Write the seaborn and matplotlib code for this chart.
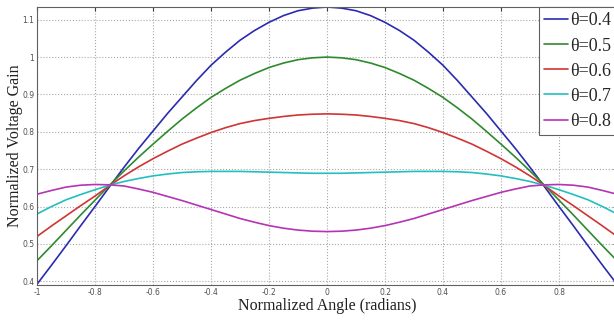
import matplotlib
matplotlib.use("Agg")
import matplotlib.pyplot as plt
import pandas as pd
import seaborn as sns
from matplotlib.lines import Line2D

# Normalized angle (left half, curves are symmetric about 0)
x_half = [-1.0, -0.95, -0.9, -0.85, -0.8, -0.75, -0.7, -0.65, -0.6, -0.55, -0.5,
          -0.45, -0.4, -0.35, -0.3, -0.25, -0.2, -0.15, -0.1, -0.05, 0.0]

gain_04 = [0.392, 0.443, 0.495, 0.548, 0.600, 0.653, 0.705, 0.755, 0.802, 0.849, 0.893,
           0.937, 0.978, 1.013, 1.045, 1.071, 1.093, 1.111, 1.124, 1.131, 1.134]
gain_05 = [0.455, 0.495, 0.536, 0.577, 0.617, 0.657, 0.695, 0.732, 0.767, 0.801, 0.834,
           0.864, 0.892, 0.916, 0.938, 0.956, 0.972, 0.984, 0.993, 0.998, 1.000]
gain_06 = [0.520, 0.548, 0.575, 0.602, 0.628, 0.656, 0.682, 0.706, 0.728, 0.748, 0.767,
           0.783, 0.798, 0.811, 0.822, 0.830, 0.836, 0.841, 0.845, 0.847, 0.848]
gain_07 = [0.580, 0.600, 0.618, 0.632, 0.645, 0.657, 0.667, 0.675, 0.682, 0.687, 0.691,
           0.693, 0.694, 0.694, 0.694, 0.693, 0.692, 0.691, 0.690, 0.689, 0.689]
gain_08 = [0.633, 0.643, 0.652, 0.657, 0.659, 0.658, 0.655, 0.647, 0.638, 0.627, 0.616,
           0.604, 0.592, 0.580, 0.568, 0.558, 0.549, 0.542, 0.537, 0.534, 0.533]

labels = ["θ=0.4", "θ=0.5", "θ=0.6", "θ=0.7", "θ=0.8"]
colors = ["#2b2bb0", "#2e8a2e", "#d03434", "#22bfbf", "#b533b5"]

x_ticks = [-1, -0.8, -0.6, -0.4, -0.2, 0, 0.2, 0.4, 0.6, 0.8, 1]
x_tick_labels = ["-1", "-0.8", "-0.6", "-0.4", "-0.2", "0", "0.2", "0.4", "0.6", "0.8", ""]
y_ticks = [0.4, 0.5, 0.6, 0.7, 0.8, 0.9, 1.0, 1.1]
y_tick_labels = ["0.4", "0.5", "0.6", "0.7", "0.8", "0.9", "1", "1.1"]


def mirror(h):
    return list(h) + list(h[-2::-1])


x_full = list(x_half) + [-v for v in x_half[-2::-1]]
rows = []
for lab, series in zip(labels, [gain_04, gain_05, gain_06, gain_07, gain_08]):
    for xv, yv in zip(x_full, mirror(series)):
        rows.append({"x": xv, "gain": yv, "theta": lab})
df = pd.DataFrame(rows)

sns.set_style("white")
fig = plt.figure(figsize=(6.14, 3.2), dpi=100)
ax = fig.add_axes([37 / 614, 1 - 285 / 320, 580 / 614, 278 / 320])

sns.lineplot(data=df, x="x", y="gain", hue="theta", palette=colors,
             estimator=None, linewidth=1.2, ax=ax, legend=False)

ax.set_xlim(-1, 1)
ax.set_ylim(0.39, 1.134)
ax.set_xticks(x_ticks)
ax.set_xticklabels(x_tick_labels)
ax.set_yticks(y_ticks)
ax.set_yticklabels(y_tick_labels)
ax.tick_params(direction="in", top=True, right=True, length=3, width=0.8,
               labelsize=5.5, labelcolor="#505050", color="#404040", pad=2)
ax.grid(True, linestyle=":", color="#a8a8a8", linewidth=0.8)
for s in ax.spines.values():
    s.set_color("#606060")
    s.set_linewidth(0.8)

ax.set_xlabel("Normalized Angle (radians)", family="Liberation Serif", fontsize=11.5,
              labelpad=1, color="#202020")
ax.set_ylabel("Normalized Voltage Gain", family="Liberation Serif", fontsize=11.5,
              color="#202020")
ax.yaxis.set_label_coords(-0.024, 0.5)

handles = [Line2D([0], [0], color=c, linewidth=1.2) for c in colors]
leg = ax.legend(handles, labels, loc="upper right", borderaxespad=0,
                prop={"family": "Liberation Serif", "size": 13},
                handlelength=1.3, handletextpad=0.15, labelspacing=0.45,
                borderpad=0.3, fancybox=False, framealpha=1, edgecolor="#606060")
leg.get_frame().set_linewidth(0.8)

fig.savefig("out.png", dpi=100)
